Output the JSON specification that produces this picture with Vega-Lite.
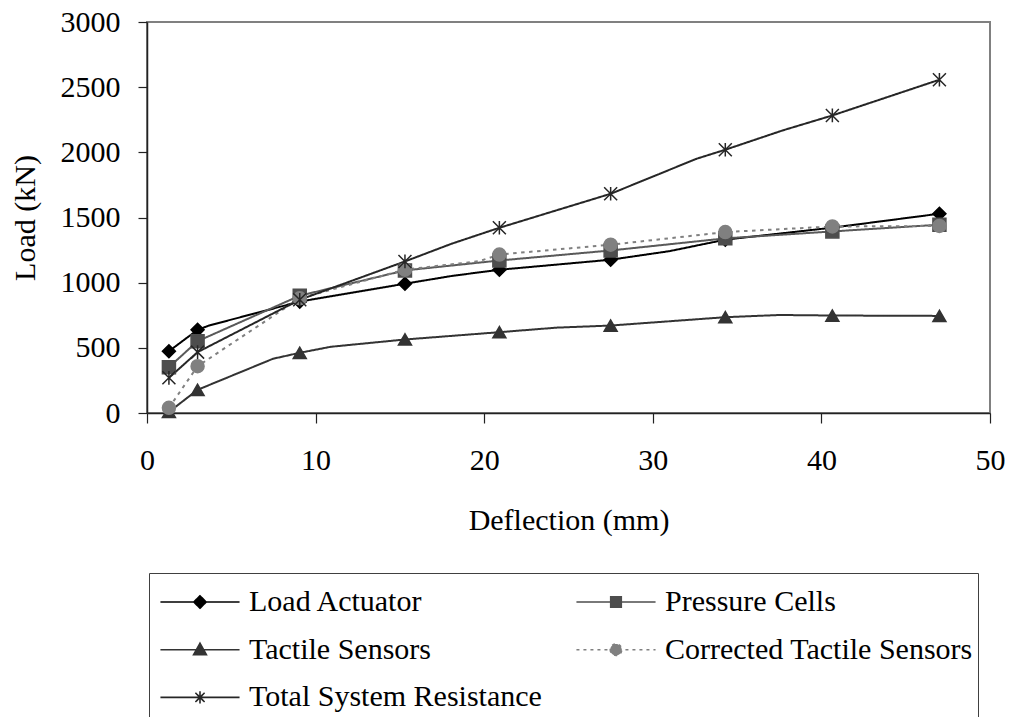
{
  "$schema": "https://vega.github.io/schema/vega-lite/v6.json",
  "width": 843,
  "height": 391,
  "autosize": {"type": "none"},
  "padding": {"left": 147, "top": 22, "right": 21, "bottom": 304},
  "background": "white",
  "data": {
    "values": [
      {"s": "Load Actuator", "x": 1.3, "y": 474, "m": 1},
      {"s": "Load Actuator", "x": 3.0, "y": 638, "m": 1},
      {"s": "Load Actuator", "x": 3.7, "y": 672, "m": 0},
      {"s": "Load Actuator", "x": 9.06, "y": 855, "m": 1},
      {"s": "Load Actuator", "x": 15.3, "y": 992, "m": 1},
      {"s": "Load Actuator", "x": 18.1, "y": 1052, "m": 0},
      {"s": "Load Actuator", "x": 20.9, "y": 1099, "m": 1},
      {"s": "Load Actuator", "x": 27.5, "y": 1176, "m": 1},
      {"s": "Load Actuator", "x": 31.0, "y": 1242, "m": 0},
      {"s": "Load Actuator", "x": 34.3, "y": 1330, "m": 1},
      {"s": "Load Actuator", "x": 40.65, "y": 1422, "m": 1},
      {"s": "Load Actuator", "x": 47.0, "y": 1529, "m": 1},
      {"s": "Pressure Cells", "x": 1.3, "y": 351, "m": 1},
      {"s": "Pressure Cells", "x": 3.0, "y": 551, "m": 1},
      {"s": "Pressure Cells", "x": 9.06, "y": 900, "m": 1},
      {"s": "Pressure Cells", "x": 15.3, "y": 1094, "m": 1},
      {"s": "Pressure Cells", "x": 20.9, "y": 1170, "m": 1},
      {"s": "Pressure Cells", "x": 27.5, "y": 1247, "m": 1},
      {"s": "Pressure Cells", "x": 34.3, "y": 1340, "m": 1},
      {"s": "Pressure Cells", "x": 40.65, "y": 1393, "m": 1},
      {"s": "Pressure Cells", "x": 47.0, "y": 1445, "m": 1},
      {"s": "Tactile Sensors", "x": 1.3, "y": 8, "m": 1},
      {"s": "Tactile Sensors", "x": 3.0, "y": 178, "m": 1},
      {"s": "Tactile Sensors", "x": 7.47, "y": 416, "m": 0},
      {"s": "Tactile Sensors", "x": 9.06, "y": 462, "m": 1},
      {"s": "Tactile Sensors", "x": 10.9, "y": 508, "m": 0},
      {"s": "Tactile Sensors", "x": 15.3, "y": 564, "m": 1},
      {"s": "Tactile Sensors", "x": 20.9, "y": 620, "m": 1},
      {"s": "Tactile Sensors", "x": 24.3, "y": 655, "m": 0},
      {"s": "Tactile Sensors", "x": 27.5, "y": 671, "m": 1},
      {"s": "Tactile Sensors", "x": 34.3, "y": 735, "m": 1},
      {"s": "Tactile Sensors", "x": 37.5, "y": 752, "m": 0},
      {"s": "Tactile Sensors", "x": 40.65, "y": 748, "m": 1},
      {"s": "Tactile Sensors", "x": 47.0, "y": 745, "m": 1},
      {"s": "Corrected Tactile Sensors", "x": 1.3, "y": 40, "m": 1},
      {"s": "Corrected Tactile Sensors", "x": 3.0, "y": 359, "m": 1},
      {"s": "Corrected Tactile Sensors", "x": 9.06, "y": 880, "m": 1},
      {"s": "Corrected Tactile Sensors", "x": 15.3, "y": 1100, "m": 1},
      {"s": "Corrected Tactile Sensors", "x": 19.7, "y": 1165, "m": 0},
      {"s": "Corrected Tactile Sensors", "x": 20.9, "y": 1216, "m": 1},
      {"s": "Corrected Tactile Sensors", "x": 27.5, "y": 1291, "m": 1},
      {"s": "Corrected Tactile Sensors", "x": 34.3, "y": 1388, "m": 1},
      {"s": "Corrected Tactile Sensors", "x": 40.65, "y": 1431, "m": 1},
      {"s": "Corrected Tactile Sensors", "x": 47.0, "y": 1435, "m": 1},
      {"s": "Total System Resistance", "x": 1.3, "y": 270, "m": 1},
      {"s": "Total System Resistance", "x": 3.0, "y": 467, "m": 1},
      {"s": "Total System Resistance", "x": 9.06, "y": 869, "m": 1},
      {"s": "Total System Resistance", "x": 15.3, "y": 1163, "m": 1},
      {"s": "Total System Resistance", "x": 18.05, "y": 1298, "m": 0},
      {"s": "Total System Resistance", "x": 20.9, "y": 1421, "m": 1},
      {"s": "Total System Resistance", "x": 27.5, "y": 1682, "m": 1},
      {"s": "Total System Resistance", "x": 32.6, "y": 1951, "m": 0},
      {"s": "Total System Resistance", "x": 34.3, "y": 2020, "m": 1},
      {"s": "Total System Resistance", "x": 37.7, "y": 2168, "m": 0},
      {"s": "Total System Resistance", "x": 40.65, "y": 2283, "m": 1},
      {"s": "Total System Resistance", "x": 47.0, "y": 2557, "m": 1}
    ]
  },
  "encoding": {
    "x": {
      "field": "x", "type": "quantitative",
      "scale": {"domain": [0, 50], "nice": false, "zero": false},
      "axis": {"values": [0, 10, 20, 30, 40, 50], "format": "d", "title": "Deflection (mm)", "tickSize": 10, "labelPadding": 22, "titlePadding": 30, "labelFlush": false, "labelOverlap": false}
    },
    "y": {
      "field": "y", "type": "quantitative",
      "scale": {"domain": [0, 3000], "nice": false},
      "axis": {"values": [0, 500, 1000, 1500, 2000, 2500, 3000], "format": "d", "title": "Load (kN)", "tickSize": 9, "labelPadding": 18, "titlePadding": 20, "labelFlush": false, "labelOverlap": false}
    }
  },
  "layer": [
    {
      "mark": {"type": "line", "strokeWidth": 2},
      "encoding": {
        "color": {
          "field": "s", "type": "nominal", "legend": null,
          "scale": {
            "domain": ["Load Actuator", "Pressure Cells", "Tactile Sensors", "Corrected Tactile Sensors", "Total System Resistance"],
            "range": ["#000000", "#595959", "#333333", "#808080", "#262626"]
          }
        },
        "strokeDash": {
          "field": "s", "type": "nominal", "legend": null,
          "scale": {
            "domain": ["Load Actuator", "Pressure Cells", "Tactile Sensors", "Corrected Tactile Sensors", "Total System Resistance"],
            "range": [[1, 0], [1, 0], [1, 0], [3.5, 4.5], [1, 0]]
          }
        }
      }
    },
    {
      "transform": [{"filter": "datum.m == 1"}],
      "mark": {"type": "point", "filled": true, "opacity": 1, "strokeWidth": 1.5, "size": 169},
      "encoding": {
        "shape": {
          "field": "s", "type": "nominal", "legend": null,
          "scale": {
            "domain": ["Load Actuator", "Pressure Cells", "Tactile Sensors", "Corrected Tactile Sensors", "Total System Resistance"],
            "range": ["diamond", "square", "triangle-up", "circle", "M-1,-1L1,1M-1,1L1,-1M0,-1.05L0,1.05"]
          }
        },
        "fill": {
          "field": "s", "type": "nominal", "legend": null,
          "scale": {
            "domain": ["Load Actuator", "Pressure Cells", "Tactile Sensors", "Corrected Tactile Sensors", "Total System Resistance"],
            "range": ["#000000", "#4d4d4d", "#333333", "#808080", "#262626"]
          }
        },
        "stroke": {
          "field": "s", "type": "nominal", "legend": null,
          "scale": {
            "domain": ["Load Actuator", "Pressure Cells", "Tactile Sensors", "Corrected Tactile Sensors", "Total System Resistance"],
            "range": ["#000000", "#4d4d4d", "#333333", "#808080", "#262626"]
          }
        }
      }
    },
    {
      "transform": [{"filter": "datum.m == 5"}],
      "mark": {"type": "point", "filled": true, "opacity": 1, "strokeWidth": 1.6},
      "encoding": {
        "shape": {
          "field": "s", "type": "nominal", "legend": {"title": null},
          "scale": {
            "domain": ["Load Actuator", "Pressure Cells", "Tactile Sensors", "Corrected Tactile Sensors", "Total System Resistance"],
            "range": [
              "M-1.72,0L1.72,0M0,-0.27L0.27,0L0,0.27L-0.27,0Z",
              "M-1.72,0L1.72,0M-0.23,-0.23L0.23,-0.23L0.23,0.23L-0.23,0.23Z",
              "M-1.72,0L1.72,0M0,-0.28L0.28,0.22L-0.28,0.22Z",
              "M-1.72,0L1.72,0M-0.25,0A0.25,0.25,0,1,0,0.25,0A0.25,0.25,0,1,0,-0.25,0Z",
              "M-1.72,0L1.72,0M-0.2,-0.2L0.2,0.2M-0.2,0.2L0.2,-0.2M0,-0.27L0,0.27"
            ]
          }
        },
        "fill": {
          "field": "s", "type": "nominal", "legend": {"title": null},
          "scale": {
            "domain": ["Load Actuator", "Pressure Cells", "Tactile Sensors", "Corrected Tactile Sensors", "Total System Resistance"],
            "range": ["#000000", "#4d4d4d", "#333333", "#808080", "#262626"]
          }
        },
        "stroke": {
          "field": "s", "type": "nominal", "legend": {"title": null},
          "scale": {
            "domain": ["Load Actuator", "Pressure Cells", "Tactile Sensors", "Corrected Tactile Sensors", "Total System Resistance"],
            "range": ["#000000", "#4d4d4d", "#333333", "#808080", "#262626"]
          }
        },
        "strokeDash": {
          "field": "s", "type": "nominal", "legend": {"title": null},
          "scale": {
            "domain": ["Load Actuator", "Pressure Cells", "Tactile Sensors", "Corrected Tactile Sensors", "Total System Resistance"],
            "range": [[1, 0], [1, 0], [1, 0], [3, 4], [1, 0]]
          }
        }
      }
    }
  ],
  "resolve": {
    "scale": {"color": "independent", "shape": "independent", "fill": "independent", "stroke": "independent", "strokeDash": "independent"},
    "legend": {"color": "independent", "shape": "independent", "fill": "independent", "stroke": "independent", "strokeDash": "independent"}
  },
  "config": {
    "font": "Liberation Serif, Times New Roman, DejaVu Serif, serif",
    "view": {"stroke": "#808080", "strokeWidth": 2},
    "axis": {
      "grid": false,
      "domainColor": "#222222",
      "domainWidth": 1.5,
      "tickColor": "#222222",
      "tickWidth": 1.2,
      "labelFont": "Liberation Serif, Times New Roman, DejaVu Serif, serif",
      "labelFontSize": 30,
      "labelColor": "#000000",
      "titleFont": "Liberation Serif, Times New Roman, DejaVu Serif, serif",
      "titleFontSize": 30,
      "titleFontWeight": "normal",
      "titleColor": "#000000"
    },
    "legend": {
      "orient": "none",
      "legendX": 2,
      "legendY": 551,
      "direction": "horizontal",
      "columns": 2,
      "columnPadding": 28,
      "rowPadding": 8.7,
      "padding": 5,
      "strokeColor": "#404040",
      "symbolSize": 2116,
      "symbolStrokeWidth": 1.6,
      "symbolOpacity": 1,
      "symbolOffset": 22,
      "labelOffset": 25,
      "labelFont": "Liberation Serif, Times New Roman, DejaVu Serif, serif",
      "labelFontSize": 30,
      "labelColor": "#000000",
      "labelLimit": 600,
      "labelBaseline": "middle"
    }
  }
}
